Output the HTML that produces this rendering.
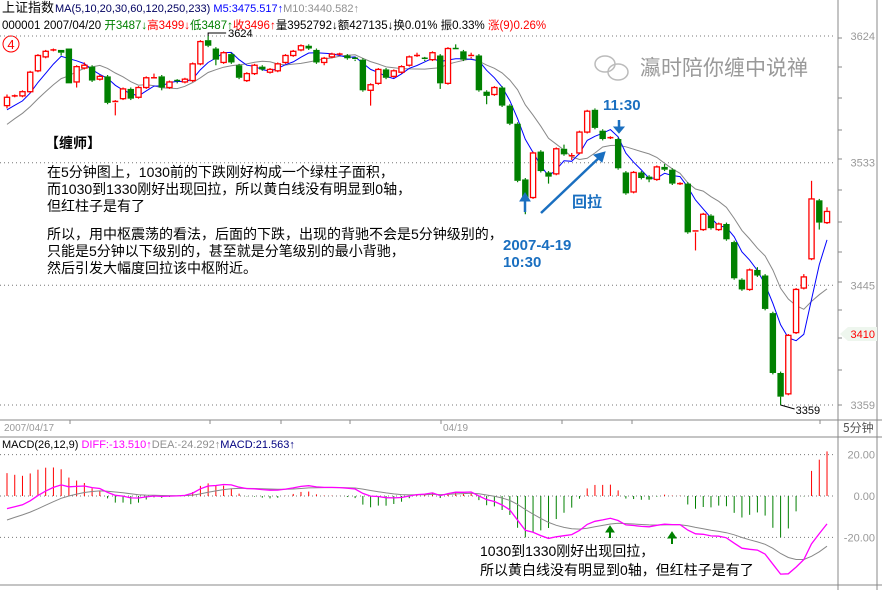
<!DOCTYPE html>
<html><head><meta charset="utf-8">
<style>
body{margin:0;background:#fff;}
#wrap{position:relative;width:882px;height:590px;overflow:hidden;background:#fff;font-family:"Liberation Sans","Noto Sans CJK SC",sans-serif;}
svg{position:absolute;left:0;top:0;}
</style></head>
<body>
<div id="wrap">
<svg id="chart" width="882" height="590" viewBox="0 0 882 590">
<text x="2" y="12" font-size="13" fill="#000" font-family="Liberation Sans,Noto Sans CJK SC,sans-serif">上证指数</text>
<text x="55" y="12" font-size="11" font-family="Liberation Sans,sans-serif"><tspan fill="#000060">MA(5,10,20,30,60,120,250,233)</tspan><tspan fill="#0000ff"> M5:3475.517↑</tspan><tspan fill="#909090">M10:3440.582↑</tspan></text>
<text x="2" y="29" font-size="11.5" font-family="Liberation Sans,Noto Sans CJK SC,sans-serif"><tspan fill="#000">000001 2007/04/20 </tspan><tspan fill="#008000">开3487↓</tspan><tspan fill="#ff0000">高3499↓</tspan><tspan fill="#008000">低3487↑</tspan><tspan fill="#ff0000">收3496↑</tspan><tspan fill="#000">量3952792↓额427135↓换0.01% 振0.33% </tspan><tspan fill="#ff0000">涨(9)0.26%</tspan></text>
<circle cx="11" cy="44" r="8" fill="none" stroke="#ff0000" stroke-width="1"/>
<text x="11" y="49" font-size="13" fill="#ff0000" text-anchor="middle">4</text>
<g id="grid"></g>
<g id="marks"></g>
<g>
<ellipse cx="605" cy="64" rx="10" ry="8" fill="none" stroke="#bbb" stroke-width="1.5"/>
<ellipse cx="618" cy="72" rx="10" ry="8" fill="none" stroke="#bbb" stroke-width="1.5"/>
<text x="640" y="75" font-size="21" fill="#999" font-family="Noto Sans CJK SC,sans-serif">瀛时陪你缠中说禅</text>
</g>
<g font-family="Liberation Sans,Noto Sans CJK SC,sans-serif" fill="#000">
<text x="45" y="148" font-size="14" font-weight="bold">【缠师】</text>
<g font-size="14">
<text x="47" y="177">在5分钟图上，1030前的下跌刚好构成一个绿柱子面积，</text>
<text x="47" y="194">而1030到1330刚好出现回拉，所以黄白线没有明显到0轴，</text>
<text x="47" y="211">但红柱子是有了</text></g>
<g font-size="14">
<text x="47" y="239">所以，用中枢震荡的看法，后面的下跌，出现的背驰不会是5分钟级别的，</text>
<text x="47" y="256">只能是5分钟以下级别的，甚至就是分笔级别的最小背驰，</text>
<text x="47" y="273">然后引发大幅度回拉该中枢附近。</text></g>
<g font-size="14">
<text x="480" y="556">1030到1330刚好出现回拉，</text>
<text x="480" y="575">所以黄白线没有明显到0轴，但红柱子是有了</text></g>
</g>
<g fill="#1a6fc0" font-weight="bold" font-size="15" font-family="Liberation Sans,Noto Sans CJK SC,sans-serif">
<text x="603" y="110">11:30</text>
<text x="572" y="207" font-size="15">回拉</text>
<text x="503" y="250">2007-4-19</text>
<text x="503" y="267">10:30</text>
</g>
<g stroke="#1a6fc0" fill="#1a6fc0">
<line x1="619" y1="120" x2="619" y2="128" stroke-width="2.5"/><polygon points="614,127 624,127 619,133"/>
<line x1="525" y1="200" x2="525" y2="212" stroke-width="2.5"/><polygon points="520,201 530,201 525,193"/>
<line x1="541" y1="213" x2="602" y2="155" stroke-width="2.5"/><polygon points="605,152 594,155 602,162"/>
</g>
<g stroke="#008000" fill="#008000">
<line x1="610" y1="531" x2="610" y2="538" stroke-width="2"/><polygon points="606,532 614,532 610,526"/>
<line x1="672" y1="537" x2="672" y2="544" stroke-width="2"/><polygon points="668,538 676,538 672,532"/>
</g>
</svg>
</div>
<script>
const opens=[3574,3581,3581,3584,3599,3609,3614,3614,3615,3591,3601,3602,3593,3595,3576,3579,3586,3580,3587,3593,3595,3587,3592,3591,3592,3604,3621,3615,3605,3611,3603,3592,3597,3602,3598,3599,3605,3610,3614,3617,3614,3605,3609,3611,3610,3608,3607,3585,3590,3600,3595,3598,3603,3610,3608,3607,3610,3590,3615,3613,3609,3610,3584,3582,3587,3574,3561,3521,3508,3541,3526,3525,3543,3537,3540,3555,3571,3556,3551,3550,3526,3512,3526,3523,3521,3530,3528,3518,3518,3483,3485,3495,3485,3489,3476,3449,3442,3456,3452,3425,3382,3367,3411,3443,3464,3506,3490];
const closes=[3580,3581,3584,3598,3610,3613,3614,3612,3590,3602,3603,3592,3595,3576,3577,3586,3579,3587,3594,3594,3587,3591,3591,3593,3604,3620,3617,3607,3612,3605,3594,3597,3603,3600,3600,3604,3610,3613,3617,3615,3605,3608,3611,3611,3608,3607,3585,3589,3600,3594,3599,3602,3609,3610,3607,3612,3590,3615,3614,3607,3610,3585,3581,3587,3574,3561,3520,3507,3540,3527,3523,3543,3539,3538,3555,3570,3558,3550,3551,3529,3511,3526,3522,3521,3530,3528,3518,3518,3483,3484,3496,3486,3489,3478,3450,3442,3456,3452,3428,3382,3365,3409,3442,3451,3507,3490,3498];
const highs=[3582,3582,3585,3599,3611,3614,3615,3614,3615,3603,3605,3603,3596,3596,3578,3587,3587,3588,3595,3597,3596,3592,3593,3594,3605,3621,3624,3616,3613,3612,3604,3598,3604,3603,3601,3605,3611,3614,3618,3618,3615,3609,3612,3612,3611,3609,3608,3590,3601,3601,3600,3603,3610,3612,3609,3613,3611,3616,3618,3614,3612,3611,3585,3588,3588,3575,3562,3522,3541,3542,3527,3544,3546,3540,3556,3571,3572,3557,3552,3551,3527,3527,3527,3524,3531,3532,3529,3519,3519,3484,3497,3496,3490,3490,3477,3450,3457,3458,3453,3426,3383,3410,3443,3453,3520,3507,3501];
const lows=[3572,3580,3580,3583,3598,3608,3613,3610,3590,3587,3600,3591,3592,3575,3567,3578,3578,3579,3586,3593,3585,3586,3590,3590,3591,3603,3616,3603,3604,3604,3593,3591,3596,3599,3597,3598,3604,3609,3613,3614,3604,3603,3608,3610,3607,3606,3584,3574,3589,3593,3594,3597,3602,3609,3606,3606,3586,3589,3614,3606,3608,3584,3575,3581,3573,3560,3519,3496,3507,3526,3518,3524,3538,3535,3539,3554,3557,3549,3550,3528,3510,3511,3521,3519,3520,3527,3517,3517,3482,3470,3484,3485,3484,3477,3449,3441,3441,3451,3427,3381,3359,3366,3410,3442,3463,3485,3489];
const priorCloses=[3540,3545,3550,3555,3560,3565,3568,3570,3572];
const priceTicks=[3624,3533,3445,3359];
const macdTicks=[20,0,-20];
const timeLabels=["2007/04/17","04/19"];

const NS="http://www.w3.org/2000/svg";
function yP(p){return 36+(3624-p)*1.3925;}
function yM(v){return 496-v*2.07;}
function xC(i){return 7+i*7.736;}
function mk(tag,attrs,parent){const e=document.createElementNS(NS,tag);for(const k in attrs)e.setAttribute(k,attrs[k]);parent.appendChild(e);return e;}
const grid=document.getElementById('grid');
const marks=document.getElementById('marks');

let ln;
ln=mk('line',{x1:838,y1:0,x2:838,y2:590,stroke:'#888','stroke-width':1},grid);


ln=mk('line',{x1:877,y1:0,x2:877,y2:590,stroke:'#888','stroke-width':1},grid);


ln=mk('line',{x1:0,y1:420,x2:882,y2:420,stroke:'#888','stroke-width':1},grid);


ln=mk('line',{x1:0,y1:437,x2:882,y2:437,stroke:'#888','stroke-width':1},grid);


ln=mk('line',{x1:0,y1:585,x2:882,y2:585,stroke:'#888','stroke-width':1},grid);


[38,67,98,130,159,190,222,252,282,310,338,370,405].forEach(function(y){mk('line',{x1:838,y1:y,x2:842,y2:y,stroke:'#888'},grid);});

priceTicks.forEach(function(p){
  const g=mk('line',{x1:0,y1:yP(p),x2:836,y2:yP(p),stroke:'#777','stroke-dasharray':'1,3'},grid);
  
  
  const t=mk('text',{x:875,y:yP(p)+4,'font-size':11,fill:'#999','text-anchor':'end'},grid);
  t.textContent=String(p);
  
  
});
const lastP=3410;
const cp=mk('polygon',{points:`840,${yP(lastP)} 848,${yP(lastP)-7} 877,${yP(lastP)-7} 877,${yP(lastP)+7} 848,${yP(lastP)+7}`,fill:'#eef6ee'},grid);


const cpt=mk('text',{x:875,y:yP(lastP)+4,'font-size':11,fill:'#ff0000','text-anchor':'end'},grid);
cpt.textContent=String(lastP);



macdTicks.forEach(function(v){
  const g=mk('line',{x1:0,y1:yM(v),x2:836,y2:yM(v),stroke:'#777','stroke-dasharray':'1,3'},grid);
  
  
  const t=mk('text',{x:875,y:yM(v)+4,'font-size':11,fill:'#999','text-anchor':'end'},grid);
  t.textContent=v.toFixed(2);
  
  
});
let tl=mk('text',{x:4,y:431,'font-size':10,fill:'#999'},grid);tl.textContent=timeLabels[0];


tl=mk('text',{x:443,y:431,'font-size':10,fill:'#999'},grid);tl.textContent=timeLabels[1];


tl=mk('text',{x:843,y:432,'font-size':12,fill:'#555','font-family':'Noto Sans CJK SC,sans-serif'},grid);tl.textContent='5分钟';


[70,210,281,350,441,562,632,820].forEach(function(x){mk('line',{x1:x,y1:420,x2:x,y2:424,stroke:'#888'},grid);});
const mt=mk('text',{x:2,y:448,'font-size':11},grid);
mt.innerHTML='<tspan fill="#000">MACD(26,12,9) </tspan><tspan fill="#ff00ff">DIFF:-13.510↑</tspan><tspan fill="#909090">DEA:-24.292↑</tspan><tspan fill="#000080">MACD:21.563↑</tspan>';



let e12=3575,e26=3582,dea=-13;
const diffs=[],deas=[],hist=[];
closes.forEach(function(c){
  e12=e12*11/13+c*2/13; e26=e26*25/27+c*2/27;
  const d=e12-e26; dea=dea*0.8+d*0.2;
  diffs.push(d);deas.push(dea);hist.push(2*(d-dea));
});
hist.forEach(function(h,i){
  const b=mk('line',{x1:xC(i),y1:yM(0),x2:xC(i),y2:yM(h),stroke:h>=0?'#ff0000':'#008000','stroke-width':1},marks);
  
  
});
function poly(arr,fy,color,name,w){
  const pts=arr.map(function(v,i){return v==null?null:xC(i).toFixed(1)+','+fy(v).toFixed(1);}).filter(Boolean).join(' ');
  const p=mk('polyline',{points:pts,fill:'none',stroke:color,'stroke-width':w||1},marks);
  
  
}
poly(deas,yM,'#888','dea-line');
poly(diffs,yM,'#ff00ff','diff-line',1.3);

const all=priorCloses.concat(closes);
function ma(n){return closes.map(function(c,i){const j=i+priorCloses.length;let s=0;for(let k=j-n+1;k<=j;k++)s+=all[k];return s/n;});}
poly(ma(10),yP,'#888','ma10-line');
poly(ma(5),yP,'#0000ff','ma5-line');

closes.forEach(function(c,i){
  const o=opens[i],h=highs[i],l=lows[i],x=xC(i);
  const up=c>=o;const col=up?'#ff0000':'#008000';
  const g=mk('g',{},marks);
  
  
  const top=yP(Math.max(o,c)),bot=yP(Math.min(o,c));
  mk('line',{x1:x,y1:yP(h),x2:x,y2:top,stroke:col,'stroke-width':1.2},g);
  mk('line',{x1:x,y1:bot,x2:x,y2:yP(l),stroke:col,'stroke-width':1.2},g);
  if(bot-top<1.5){mk('line',{x1:x-3,y1:top,x2:x+3,y2:top,stroke:col,'stroke-width':1.5},g);}
  else if(up){mk('rect',{x:x-2.6,y:top,width:5.2,height:bot-top,fill:'#fff',stroke:col,'stroke-width':1.3},g);}
  else{mk('rect',{x:x-3.2,y:top,width:6.4,height:bot-top,fill:col},g);}
});
let hi=0,lo=0;highs.forEach(function(v,i){if(v>highs[hi])hi=i;});lows.forEach(function(v,i){if(v<lows[lo])lo=i;});
let a=mk('polyline',{points:`${xC(hi)},${yP(highs[hi])} ${xC(hi)},${yP(highs[hi])-3} ${xC(hi)+18},${yP(highs[hi])-3}`,fill:'none',stroke:'#000'},marks);


a=mk('text',{x:xC(hi)+20,y:yP(highs[hi])+1,'font-size':11,fill:'#000'},marks);a.textContent=String(highs[hi]);


a=mk('line',{x1:xC(lo),y1:yP(lows[lo]),x2:xC(lo)+14,y2:yP(lows[lo])+4,stroke:'#000'},marks);


a=mk('text',{x:xC(lo)+15,y:yP(lows[lo])+9,'font-size':11,fill:'#000'},marks);a.textContent=String(lows[lo]);


</script>
</body></html>
